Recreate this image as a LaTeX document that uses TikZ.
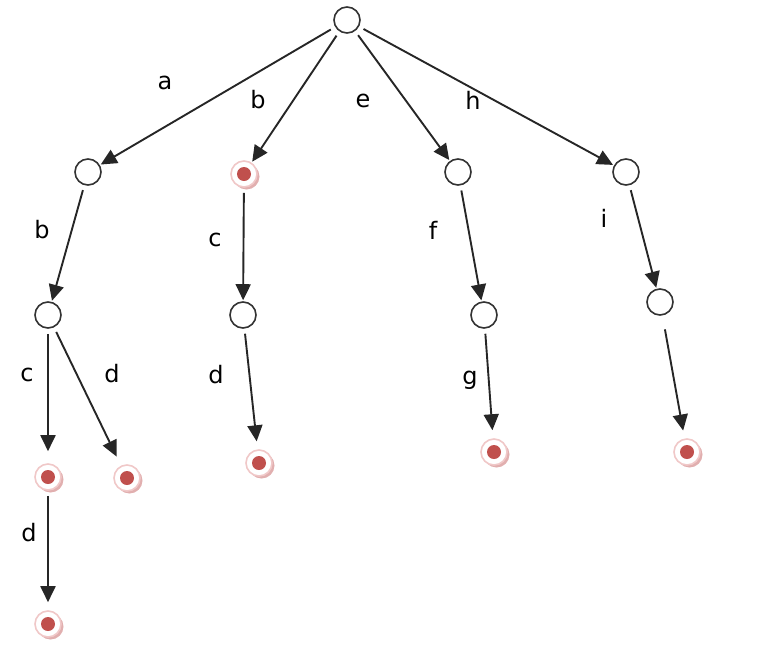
\documentclass[tikz,border=0pt]{standalone}
\usepackage{fontspec}
\setmainfont{DejaVu Sans}
\usetikzlibrary{arrows.meta,shadows}
\definecolor{dotred}{RGB}{192,80,77}
\definecolor{ringpink}{RGB}{240,200,200}
\definecolor{shadepink}{RGB}{225,175,175}

\begin{document}
\begin{tikzpicture}[x=1pt,y=-1pt,
    state/.style={circle, draw=black!80, line width=1.6pt, fill=white,
        minimum size=26pt, inner sep=0pt},
    accept/.style={circle, draw=ringpink, line width=1.6pt, fill=white,
        minimum size=26pt, inner sep=0pt,
        drop shadow={shadow xshift=2.5pt, shadow yshift=-2.5pt, fill=shadepink, opacity=1},
        path picture={\fill[dotred] (path picture bounding box.center) circle (7pt);}},
    trans/.style={-{Triangle[length=16pt,width=15pt]}, line width=1.9pt,
        draw=black!85, shorten <=5pt, shorten >=1pt},
    sym/.style={font=\fontsize{24}{28}\selectfont, inner sep=0pt}
]
\useasboundingbox (0,0) rectangle (758,654);

 % States
 \node[state] (root) at (347,20) {};
 \node[state] (A) at (88,172) {};
 \node[accept] (B) at (244,174) {};
 \node[state] (E) at (458,172) {};
 \node[state] (H) at (626,172) {};

 \node[state] (AB) at (48,315) {};
 \node[state] (BC) at (243,315) {};
 \node[state] (EF) at (484,315) {};
 \node[state] (HI) at (660,302) {};

 \node[accept] (ABC) at (48,477) {};
 \node[accept] (ABD) at (127,478) {};
 \node[accept] (BCD) at (259,463) {};
 \node[accept] (EFG) at (494,452) {};
 \node[accept] (HIx) at (687,452) {};
 \node[accept] (ABCD) at (48,624) {};

 % Transitions
 \draw[trans] (root) -- (A);
 \draw[trans] (root) -- (B);
 \draw[trans] (root) -- (E);
 \draw[trans] (root) -- (H);
 \draw[trans] (A) -- (AB);
 \draw[trans] (B) -- (BC);
 \draw[trans] (E) -- (EF);
 \draw[trans] (H) -- (HI);
 \draw[trans, shorten >=12pt] (AB) -- (ABC);
 \draw[trans, shorten >=10pt] (AB) -- (ABD);
 \draw[trans, shorten >=8pt] (BC) -- (BCD);
 \draw[trans, shorten >=8pt] (EF) -- (EFG);
 \draw[trans, shorten <=14pt, shorten >=8pt] (HI) -- (HIx);
 \draw[trans, shorten >=8pt] (ABC) -- (ABCD);

 % Symbols
 \node[sym] (la) at (165,83) {a};
 \node[sym] (lb) at (258,100) {b};
 \node[sym] (le) at (363,101) {e};
 \node[sym] (lh) at (473,100) {h};
 \node[sym] (lb2) at (42,230) {b};
 \node[sym] (lc) at (215,240) {c};
 \node[sym] (lf) at (433,230) {f};
 \node[sym] (li) at (604,218) {i};
 \node[sym] (lc2) at (27,375) {c};
 \node[sym] (ld) at (112,374) {d};
 \node[sym] (ld2) at (216,375) {d};
 \node[sym] (lg) at (470,380) {g};
 \node[sym] (ld3) at (29,533) {d};
\end{tikzpicture}
\end{document}
